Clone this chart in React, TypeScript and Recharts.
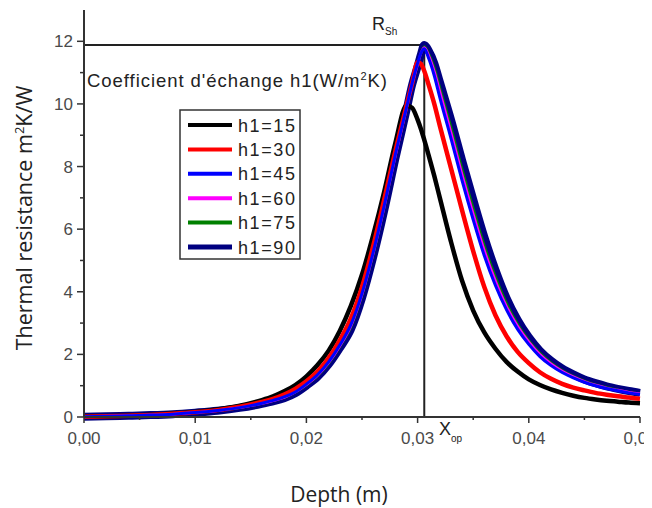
import { LineChart, Line, XAxis, YAxis, ReferenceLine } from "recharts";

// depth (m) sample points
const depth = [
  0, 0.002, 0.004, 0.006, 0.008, 0.01, 0.012, 0.014, 0.016, 0.017, 0.018, 0.019,
  0.02, 0.021, 0.022, 0.023, 0.024, 0.025, 0.026, 0.027, 0.028, 0.029, 0.0295,
  0.03, 0.0303, 0.0306, 0.031, 0.0315, 0.032, 0.033, 0.034, 0.035, 0.036, 0.037,
  0.038, 0.039, 0.04, 0.041, 0.042, 0.043, 0.044, 0.045, 0.046, 0.047, 0.048,
  0.049, 0.05,
];

const h15 = [
  0.01, 0.02, 0.04, 0.07, 0.11, 0.16, 0.24, 0.36, 0.54, 0.66, 0.82, 1.02,
  1.3, 1.66, 2.12, 2.75, 3.55, 4.55, 5.8, 7.2, 8.75, 9.95, 9.88,
  9.5, 9.2, 8.85, 8.35, 7.7, 7.0, 5.6, 4.35, 3.4, 2.7, 2.18,
  1.76, 1.45, 1.2, 1.02, 0.88, 0.77, 0.68, 0.61, 0.56, 0.52, 0.49,
  0.46, 0.44,
];
const h30 = [
  0.01, 0.02, 0.04, 0.06, 0.1, 0.15, 0.22, 0.33, 0.48, 0.58, 0.72, 0.9,
  1.14, 1.45, 1.88, 2.45, 3.15, 4.15, 5.45, 6.95, 8.5, 9.95, 10.65,
  11.33, 11.28, 11.05, 10.6, 10.0, 9.3, 7.95, 6.6, 5.3, 4.15, 3.25,
  2.58, 2.08, 1.72, 1.43, 1.22, 1.06, 0.94, 0.85, 0.77, 0.71, 0.66,
  0.62, 0.58,
];
const h45 = [
  0.01, 0.02, 0.04, 0.06, 0.09, 0.14, 0.21, 0.3, 0.44, 0.53, 0.64, 0.8,
  1.05, 1.35, 1.76, 2.3, 2.95, 3.95, 5.25, 6.75, 8.38, 9.88, 10.65,
  11.3, 11.62, 11.76, 11.45, 10.9, 10.2, 8.9, 7.55, 6.3, 5.15, 4.2,
  3.42, 2.8, 2.32, 1.93, 1.64, 1.42, 1.25, 1.11, 1.0, 0.91, 0.84,
  0.77, 0.72,
];
const h60 = [
  0.01, 0.02, 0.04, 0.06, 0.09, 0.14, 0.2, 0.3, 0.43, 0.52, 0.62, 0.79,
  1.03, 1.32, 1.73, 2.26, 2.9, 3.9, 5.2, 6.7, 8.33, 9.85, 10.62,
  11.25, 11.62, 11.8, 11.55, 11.05, 10.4, 9.1, 7.75, 6.5, 5.33, 4.35,
  3.53, 2.9, 2.4, 2.0, 1.7, 1.47, 1.29, 1.14, 1.02, 0.93, 0.86,
  0.79, 0.74,
];
const h75 = [
  0.01, 0.02, 0.04, 0.06, 0.09, 0.14, 0.2, 0.29, 0.42, 0.51, 0.61, 0.78,
  1.01, 1.3, 1.7, 2.23, 2.85, 3.85, 5.15, 6.65, 8.3, 9.82, 10.61,
  11.22, 11.6, 11.84, 11.62, 11.18, 10.55, 9.3, 7.95, 6.7, 5.5, 4.5,
  3.65, 2.98, 2.46, 2.05, 1.74, 1.5, 1.31, 1.16, 1.04, 0.95, 0.87,
  0.8, 0.75,
];
const h90 = [
  0.01, 0.02, 0.04, 0.06, 0.09, 0.14, 0.2, 0.29, 0.42, 0.5, 0.6, 0.76,
  1.0, 1.28, 1.68, 2.2, 2.8, 3.8, 5.1, 6.6, 8.25, 9.8, 10.6,
  11.2, 11.58, 11.88, 11.7, 11.3, 10.7, 9.5, 8.2, 6.95, 5.75, 4.7,
  3.8, 3.1, 2.55, 2.12, 1.8, 1.55, 1.36, 1.2, 1.08, 0.98, 0.9,
  0.83, 0.77,
];

const seriesKeys = ["h15", "h30", "h45", "h60", "h75", "h90"];
const seriesNames = ["h1=15", "h1=30", "h1=45", "h1=60", "h1=75", "h1=90"];
const seriesColors = ["#000000", "#ff0000", "#0000ff", "#ff00ff", "#008000", "#000080"];

const xTicks = [0, 0.005, 0.01, 0.015, 0.02, 0.025, 0.03, 0.035, 0.04, 0.045, 0.05];
const yTicks = [0, 1, 2, 3, 4, 5, 6, 7, 8, 9, 10, 11, 12];
const rightTicks = [0, 1, 2, 3, 4, 5, 6, 7, 8, 9, 10];

const rshValue = 11.88; // R_Sh
const xopValue = 0.0306; // X_op

const data = depth.map((x, i) => ({
  x,
  h15: h15[i],
  h30: h30[i],
  h45: h45[i],
  h60: h60[i],
  h75: h75[i],
  h90: h90[i],
}));

const AXIS = "#333";
const TICK_TEXT = "#4a4a4a";
const SANS = "'Liberation Sans', Arial, sans-serif";

const isMajorX = (v: number) => Math.round(v * 1000) % 10 === 0;

function BottomTick(props: any) {
  const { x, y, payload } = props;
  const v = payload.value as number;
  const major = isMajorX(v);
  return (
    <g>
      <line x1={x} x2={x} y1={y} y2={y + (major ? 6 : 3)} stroke={AXIS} strokeWidth={1.5} />
      {major && (
        <text x={x} y={y + 27} textAnchor="middle" fontSize={17} fontFamily={SANS} fill={TICK_TEXT}>
          {v.toFixed(2).replace(".", ",")}
        </text>
      )}
    </g>
  );
}

function TopTick(props: any) {
  const { x, y, payload } = props;
  const major = isMajorX(payload.value);
  return <line x1={x} x2={x} y1={y} y2={y + (major ? 6 : 4)} stroke={AXIS} strokeWidth={1.5} />;
}

function LeftTick(props: any) {
  const { x, y, payload } = props;
  const v = payload.value as number;
  const major = v % 2 === 0;
  return (
    <g>
      <line x1={x - (major ? 7 : 4)} x2={x} y1={y} y2={y} stroke={AXIS} strokeWidth={1.5} />
      {major && (
        <text x={x - 11} y={y + 6} textAnchor="end" fontSize={17} fontFamily={SANS} fill={TICK_TEXT}>
          {v}
        </text>
      )}
    </g>
  );
}

function RightTick(props: any) {
  const { x, y, payload } = props;
  const major = payload.value % 2 === 0;
  return <line x1={x - (major ? 7 : 4)} x2={x} y1={y} y2={y} stroke={AXIS} strokeWidth={1.5} />;
}

// drawing order: thick navy underneath, the rest on top
const drawOrder = [5, 0, 1, 4, 3, 2];
const widths = [4.5, 4.5, 3, 2.5, 2, 8];

export default function App() {
  return (
    <div style={{ position: "relative", width: 644, height: 500 }}>
      <LineChart
        width={644}
        height={500}
        data={data}
        margin={{ top: 2, right: 12, bottom: 0, left: 0 }}
      >
        <XAxis
          dataKey="x"
          type="number"
          domain={[0, 0.05]}
          ticks={xTicks}
          interval={0}
          height={91}
          tickSize={0}
          tickMargin={0}
          tickLine={false}
          axisLine={{ stroke: AXIS, strokeWidth: 2 }}
          tick={(p: any) => <BottomTick {...p} />}
        />
        <XAxis
          xAxisId="top"
          orientation="top"
          dataKey="x"
          type="number"
          domain={[0, 0.05]}
          ticks={xTicks}
          interval={0}
          height={0}
          tickSize={0}
          tickMargin={0}
          tickLine={false}
          axisLine={{ stroke: AXIS, strokeWidth: 2 }}
          tick={(p: any) => <TopTick {...p} />}
        />
        <YAxis
          type="number"
          domain={[0, 13]}
          ticks={yTicks}
          interval={0}
          width={76}
          tickSize={0}
          tickMargin={0}
          tickLine={false}
          axisLine={{ stroke: AXIS, strokeWidth: 2 }}
          tick={(p: any) => <LeftTick {...p} />}
        />
        <YAxis
          yAxisId="right"
          orientation="right"
          type="number"
          domain={[0, 10]}
          ticks={rightTicks}
          interval={0}
          width={0}
          tickSize={0}
          tickMargin={0}
          tickLine={false}
          axisLine={{ stroke: AXIS, strokeWidth: 2 }}
          tick={(p: any) => <RightTick {...p} />}
        />
        <ReferenceLine
          segment={[{ x: 0, y: rshValue }, { x: xopValue, y: rshValue }]}
          stroke="#222"
          strokeWidth={2}
        />
        <ReferenceLine
          segment={[{ x: xopValue, y: 0 }, { x: xopValue, y: rshValue }]}
          stroke="#222"
          strokeWidth={2}
        />
        {drawOrder.map((i) => (
          <Line
            key={seriesKeys[i]}
            dataKey={seriesKeys[i]}
            name={seriesNames[i]}
            type="monotone"
            stroke={seriesColors[i]}
            strokeWidth={widths[i]}
            dot={false}
            isAnimationActive={false}
          />
        ))}
      </LineChart>

      <svg
        width={644}
        height={500}
        style={{ position: "absolute", left: 0, top: 0, pointerEvents: "none" }}
      >
        <text x={79} y={79} fontSize={18.5} fontFamily={SANS} fill="#222" textLength={300} lengthAdjust="spacing">
          Coefficient d'échange h1(W/m<tspan fontSize={11} dy={-7}>2</tspan>
          <tspan dy={7}>K)</tspan>
        </text>
        <text x={364} y={22} fontSize={18} fontFamily={SANS} fill="#222">
          R<tspan fontSize={10} dy={5}>Sh</tspan>
        </text>
        <text x={431} y={427} fontSize={18} fontFamily={SANS} fill="#222">
          X<tspan fontSize={10} dy={7}>op</tspan>
        </text>

        <rect x={172} y={102} width={120} height={149} fill="#fff" stroke={AXIS} strokeWidth={1.5} />
        {seriesNames.map((n, i) => {
          const cy = 117 + i * 24.4;
          return (
            <g key={n}>
              <line x1={180} x2={224} y1={cy} y2={cy} stroke={seriesColors[i]} strokeWidth={i === 5 ? 5 : 4} />
              <text x={230} y={cy + 6.5} fontSize={18} fontFamily={SANS} fill="#222" textLength={57} lengthAdjust="spacing">
                {n}
              </text>
            </g>
          );
        })}

        <text
          x={24}
          y={210}
          transform="rotate(-90 24 210)"
          textAnchor="middle"
          fontSize={21.5}
          fontFamily="'Open Sans', sans-serif"
          fill="#222"
        >
          Thermal resistance m<tspan fontSize={13} dy={-8}>2</tspan>
          <tspan dy={8}>K/W</tspan>
        </text>
        <text x={331} y={494} textAnchor="middle" fontSize={21} fontFamily="'Open Sans', sans-serif" fill="#222">
          Depth (m)
        </text>
      </svg>
    </div>
  );
}
